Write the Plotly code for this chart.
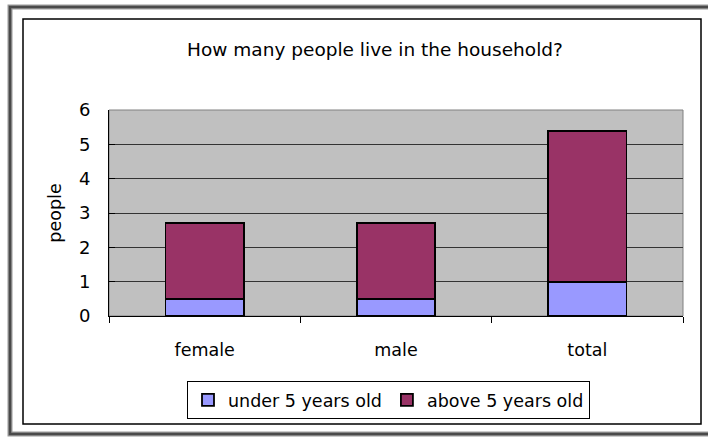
import plotly.graph_objects as go

# Household size by group, stacked by age band
categories = ["female", "male", "total"]
under_5 = [0.5, 0.5, 1.0]
above_5 = [2.2, 2.2, 4.4]
series_names = ["under 5 years old", "above 5 years old"]
y_ticks = [0, 1, 2, 3, 4, 5, 6]

W, H = 708, 437
L, R, T, B = 109, 683, 110, 316  # plot area in pixels
FONT = "DejaVu Sans"


def px_x(x):
    return (x - L) / (R - L)


def px_y(y):
    return (B - y) / (B - T)


fig = go.Figure()
fig.add_trace(go.Bar(
    x=categories, y=under_5, name=series_names[0],
    marker=dict(color="#9999FF", line=dict(color="black", width=1.8)),
))
fig.add_trace(go.Bar(
    x=categories, y=above_5, name=series_names[1],
    marker=dict(color="#993366", line=dict(color="black", width=1.8)),
))

shapes = [
    # plot area border
    dict(type="rect", xref="paper", yref="paper", x0=0, x1=1, y0=0, y1=1,
         line=dict(color="#808080", width=1), layer="below"),
    # chart area border
    dict(type="rect", xref="paper", yref="paper",
         x0=px_x(23), x1=px_x(701), y0=px_y(424), y1=px_y(19),
         line=dict(color="black", width=1.5)),
    # window frame
    dict(type="rect", xref="paper", yref="paper",
         x0=px_x(10), x1=px_x(720), y0=px_y(434), y1=px_y(7),
         line=dict(color="#9a9a9a", width=5)),
    dict(type="rect", xref="paper", yref="paper",
         x0=px_x(10), x1=px_x(720), y0=px_y(434), y1=px_y(7),
         line=dict(color="#4a4a4a", width=2.5)),
]

fig.update_layout(
    width=W, height=H,
    margin=dict(l=L, r=W - R, t=T, b=H - B, pad=0),
    paper_bgcolor="white",
    plot_bgcolor="#C0C0C0",
    barmode="stack",
    bargap=0.59,
    font=dict(family=FONT, size=17.5, color="black"),
    title=dict(text="How many people live in the household?",
               x=375 / W, xanchor="center", xref="container",
               y=1 - 50 / H, yanchor="middle", yref="container",
               font=dict(family=FONT, size=18.5, color="black")),
    xaxis=dict(
        type="category", showgrid=False, showline=True, linecolor="black",
        linewidth=1, ticks="outside", tickson="boundaries", ticklen=6,
        tickcolor="black", ticklabelstandoff=18,
        tickfont=dict(family=FONT, size=17.5, color="black"),
    ),
    yaxis=dict(
        range=[0, 6], tickvals=y_ticks, showgrid=True, gridcolor="#333333",
        gridwidth=1, showline=True, linecolor="black", linewidth=1,
        ticks="inside", ticklen=6, tickcolor="black", zeroline=False,
        ticklabelstandoff=14,
        tickfont=dict(family=FONT, size=18, color="black"),
        title=dict(text="people", standoff=12,
                   font=dict(family=FONT, size=17.5, color="black")),
    ),
    legend=dict(
        orientation="h", x=px_x(388.5), xanchor="center",
        y=px_y(400), yanchor="middle",
        bordercolor="black", borderwidth=1, bgcolor="white",
        font=dict(family=FONT, size=17.5, color="black"),
        itemwidth=30, traceorder="normal",
    ),
    shapes=shapes,
    showlegend=True,
)

fig.write_html("out.html")
